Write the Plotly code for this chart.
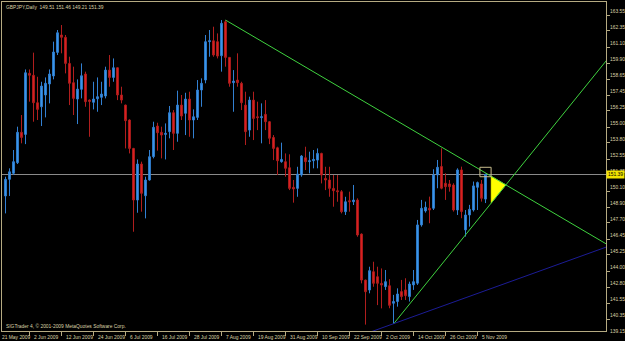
import plotly.graph_objects as go

# ---------------- data ----------------
symbol_title = "GBPJPY,Daily"
copyright_text = "SIGTrader 4, \u00a9 2001-2009 MetaQuotes Software Corp."

date_tick_index = [0, 8, 16, 24, 32, 40, 48, 56, 64, 72, 80, 88, 96, 104, 112, 120]
date_tick_labels = ["21 May 2009", "2 Jun 2009", "12 Jun 2009", "24 Jun 2009", "6 Jul 2009",
                    "16 Jul 2009", "28 Jul 2009", "7 Aug 2009", "19 Aug 2009", "31 Aug 2009",
                    "10 Sep 2009", "22 Sep 2009", "2 Oct 2009", "14 Oct 2009", "26 Oct 2009",
                    "5 Nov 2009"]

price_ticks = [163.55, 162.35, 161.10, 159.90, 158.65, 157.45, 156.25, 155.00, 153.80, 152.55,
               151.35, 150.10, 148.90, 147.70, 146.45, 145.25, 144.00, 142.80, 141.55, 140.35, 139.15]

bar_index = list(range(2, 123))

opens = [149.75, 151.02, 151.48, 152.29, 154.61, 154.45, 159.11, 158.96, 156.87, 156.56,
         157.46, 158.30, 158.91, 160.71, 162.04, 161.86, 159.87, 158.40, 157.15, 157.89,
         159.06, 157.07, 156.90, 157.17, 157.28, 157.38, 159.36, 158.80, 159.54, 157.46,
         156.69, 155.55, 153.38, 149.44, 152.19, 149.77, 150.97, 152.75, 155.09, 154.61,
         154.45, 154.66, 156.11, 154.53, 156.69, 156.06, 157.15, 155.55, 155.75, 157.84,
         158.60, 161.53, 161.60, 161.53, 160.46, 163.05, 160.33, 158.40, 158.60, 158.35,
         156.69, 154.78, 157.07, 155.80, 155.73, 155.98, 155.42, 154.22, 153.43, 152.37,
         152.37, 151.91, 150.41, 150.33, 151.35, 152.67, 152.37, 152.44, 152.49, 153.00,
         151.09, 150.97, 150.33, 150.15, 150.08, 148.55, 149.39, 149.31, 149.44, 146.84,
         143.33, 142.57, 143.97, 143.59, 143.08, 142.83, 142.90, 141.56, 141.69, 142.45,
         142.58, 142.07, 142.96, 143.09, 147.54, 148.61, 148.81, 148.81, 151.36, 152.00,
         150.72, 150.67, 150.59, 148.68, 151.74, 147.16, 148.30, 148.68, 150.41, 150.67,
         149.51]
highs = [151.22, 151.86, 153.26, 155.04, 155.93, 159.41, 159.41, 160.69, 158.85, 158.47,
         158.80, 159.41, 161.53, 162.42, 162.80, 162.04, 160.38, 159.62, 158.65, 159.87,
         159.24, 157.12, 158.47, 158.80, 158.47, 159.62, 160.51, 160.25, 159.56, 158.09,
         156.72, 155.60, 153.42, 152.54, 152.37, 151.22, 153.26, 155.42, 155.34, 155.04,
         155.29, 156.62, 156.31, 157.79, 157.46, 157.63, 157.71, 156.36, 158.60, 158.73,
         162.04, 162.42, 162.67, 162.16, 163.18, 163.18, 160.36, 159.36, 160.64, 158.47,
         157.71, 157.33, 157.71, 156.95, 156.82, 157.07, 155.47, 154.40, 153.51, 153.82,
         153.00, 152.93, 150.97, 151.98, 152.87, 153.51, 153.13, 153.26, 153.38, 153.05,
         151.98, 151.98, 151.35, 151.35, 150.20, 149.69, 150.08, 150.59, 149.57, 146.89,
         143.36, 144.35, 144.73, 144.35, 144.22, 144.10, 143.40, 142.20, 142.70, 143.34,
         143.47, 143.21, 144.10, 147.92, 149.45, 149.32, 149.70, 151.79, 152.50, 153.39,
         151.48, 150.97, 150.72, 151.86, 151.99, 148.68, 149.07, 150.85, 150.85, 150.97,
         151.46]
lows = [148.42, 149.75, 151.35, 152.19, 153.77, 153.71, 156.95, 155.42, 155.55, 155.09,
        155.75, 156.82, 158.65, 160.51, 160.64, 159.11, 156.69, 155.93, 155.24, 157.20,
        156.56, 154.27, 156.36, 156.18, 156.69, 157.20, 158.09, 158.47, 157.07, 156.82,
        153.38, 153.00, 147.02, 148.47, 148.55, 148.04, 150.92, 152.62, 153.21, 152.62,
        152.54, 154.15, 153.26, 153.89, 155.55, 154.40, 154.27, 154.15, 155.55, 156.56,
        158.35, 160.38, 160.38, 160.25, 159.24, 159.62, 158.09, 156.18, 158.09, 156.31,
        153.64, 154.27, 154.02, 154.78, 153.77, 154.78, 153.71, 152.49, 151.35, 152.29,
        151.22, 150.20, 149.24, 149.69, 151.22, 151.73, 151.48, 151.86, 151.86, 150.71,
        150.20, 149.69, 148.93, 149.31, 148.42, 148.30, 148.55, 149.06, 146.64, 143.08,
        139.93, 142.32, 142.82, 141.42, 141.17, 142.58, 141.18, 139.98, 141.30, 141.81,
        141.81, 141.69, 142.58, 142.96, 147.41, 148.48, 147.67, 148.68, 150.34, 150.26,
        149.45, 150.08, 148.56, 148.30, 148.05, 146.65, 147.41, 148.56, 148.68, 149.32,
        149.21]
closes = [151.02, 151.60, 152.37, 154.61, 154.22, 159.16, 158.96, 156.87, 156.36, 158.14,
          158.35, 159.06, 160.74, 162.21, 161.86, 159.87, 158.35, 157.20, 157.91, 158.93,
          156.95, 156.97, 157.15, 157.33, 157.53, 159.36, 158.80, 159.54, 157.46, 157.07,
          155.50, 153.38, 149.44, 152.19, 149.95, 150.97, 152.75, 154.99, 154.58, 154.40,
          154.53, 156.11, 154.53, 156.69, 155.85, 157.15, 155.55, 155.80, 157.84, 158.35,
          161.53, 161.60, 160.51, 160.43, 162.93, 160.33, 158.35, 158.52, 158.40, 156.87,
          154.66, 157.07, 155.67, 155.73, 155.80, 155.42, 154.15, 153.38, 152.44, 152.54,
          151.86, 150.33, 150.28, 151.42, 152.80, 152.37, 152.44, 152.54, 153.00, 151.35,
          150.97, 150.33, 150.15, 150.08, 148.55, 149.31, 149.31, 149.44, 146.77, 143.33,
          142.44, 144.05, 143.08, 143.08, 142.95, 143.21, 141.40, 141.69, 142.27, 142.07,
          142.14, 143.03, 143.21, 147.54, 148.81, 148.89, 148.68, 151.36, 151.94, 150.34,
          150.46, 150.46, 148.68, 151.74, 148.56, 148.30, 148.73, 150.52, 150.77, 149.57,
          151.39]

# drawn objects: anchor points (bar index, price)
upper_trend = {"x": [57, 122], "y": [163.18, 151.51]}
lower_trend = {"x": [99, 122], "y": [139.98, 148.67]}
navy_trend = {"x": [99, 122], "y": [140.00, 142.53]}
triangle = {"x": [123.4, 123.4, 127.1], "y": [151.26, 149.20, 150.60]}
rect_box = {"x": [120.6, 123.4], "y": [151.22, 151.94]}

# ---------------- styling ----------------
X_RANGE = [1.125, 152.125]
Y_RANGE = [139.443, 164.558]
FG = "#ddd3a8"
FRAME = "#b5aa82"
FONT = "Liberation Sans, Arial, sans-serif"
FS = 4.9


def ray(anchor, x_end):
    x0, x1 = anchor["x"]
    y0, y1 = anchor["y"]
    slope = (y1 - y0) / (x1 - x0)
    return [x0, x_end], [y0, y0 + slope * (x_end - x0)]


def ray_both(anchor, x_start, x_end):
    x0, x1 = anchor["x"]
    y0, y1 = anchor["y"]
    slope = (y1 - y0) / (x1 - x0)
    return [x_start, x_end], [y0 + slope * (x_start - x0), y0 + slope * (x_end - x0)]


fig = go.Figure()

fig.add_trace(go.Candlestick(
    x=bar_index, open=opens, high=highs, low=lows, close=closes,
    increasing=dict(line=dict(color="#3280d2", width=1), fillcolor="#3d9cf2"),
    decreasing=dict(line=dict(color="#b01e1e", width=1), fillcolor="#e82222"),
    whiskerwidth=0, showlegend=False, hoverinfo="skip",
))

# yellow triangle
fig.add_trace(go.Scatter(
    x=triangle["x"] + [triangle["x"][0]], y=triangle["y"] + [triangle["y"][0]],
    mode="lines", fill="toself", fillcolor="#ffff00",
    line=dict(color="#ffff00", width=0.5), showlegend=False, hoverinfo="skip"))

xe = X_RANGE[1] + 1
for anc, col, both in [(upper_trend, "#3fd23f", False), (lower_trend, "#3fd23f", False),
                       (navy_trend, "#1c1c96", True)]:
    if both:
        xs, ys = ray_both(anc, 85, xe)
    else:
        xs, ys = ray(anc, xe)
    fig.add_trace(go.Scatter(x=xs, y=ys, mode="lines", line=dict(color=col, width=1),
                             showlegend=False, hoverinfo="skip"))

shapes = [
    dict(type="line", xref="paper", yref="y", x0=0, x1=1, y0=closes[-1], y1=closes[-1],
         line=dict(color="#8a8a8a", width=1), layer="below"),
    dict(type="rect", xref="x", yref="y", x0=rect_box["x"][0], x1=rect_box["x"][1],
         y0=rect_box["y"][0], y1=rect_box["y"][1], line=dict(color="#c9bd8e", width=1),
         fillcolor="rgba(0,0,0,0)"),
]

annotations = []
# price labels (MT4 draws the text just above its tick)
for v in price_ticks:
    frac = (v - Y_RANGE[0]) / (Y_RANGE[1] - Y_RANGE[0])
    annotations.append(dict(text=f"{v:.2f}", xref="paper", yref="paper", x=1, y=frac,
                            xanchor="left", yanchor="middle", xshift=1.5, yshift=3.5,
                            showarrow=False, font=dict(size=FS, color=FG, family=FONT)))
# current price label
cfrac = (closes[-1] - Y_RANGE[0]) / (Y_RANGE[1] - Y_RANGE[0])
annotations.append(dict(text=f"{closes[-1]:.2f}", xref="paper", yref="paper", x=1, y=cfrac,
                        xanchor="left", yanchor="middle", xshift=0, showarrow=False,
                        bgcolor="#f2e300", borderpad=1,
                        font=dict(size=FS, color="#000000", family=FONT)))
# date labels (first one is pinned to the left edge, as MT4 does)
for t, lab in zip(date_tick_index, date_tick_labels):
    clamped = t < X_RANGE[0]
    xv = X_RANGE[0] if clamped else t
    annotations.append(dict(text=lab, xref="x", yref="paper", x=xv, y=0,
                            xanchor="left", yanchor="top", xshift=-2 if clamped else 2.5,
                            yshift=-2, showarrow=False,
                            font=dict(size=FS, color=FG, family=FONT)))
# title and copyright
annotations.append(dict(
    text=f"{symbol_title}  {opens[-1]:.2f} {highs[-1]:.2f} {lows[-1]:.2f} {closes[-1]:.2f}",
    xref="paper", yref="paper", x=0, y=1, xanchor="left", yanchor="top", xshift=2, yshift=-1,
    showarrow=False, font=dict(size=FS, color=FG, family=FONT)))
annotations.append(dict(
    text=copyright_text, xref="paper", yref="paper", x=0, y=0, xanchor="left",
    yanchor="bottom", xshift=2, yshift=0, showarrow=False,
    font=dict(size=FS, color=FG, family=FONT)))

fig.update_layout(
    width=625, height=341,
    margin=dict(l=2, r=19, t=2, b=10, pad=0),
    paper_bgcolor="#000000", plot_bgcolor="#000000",
    boxgap=0.38,
    showlegend=False,
    shapes=shapes,
    annotations=annotations,
    xaxis=dict(range=X_RANGE, tickvals=date_tick_index, ticks="outside", ticklen=4,
               tickcolor=FRAME, showticklabels=False, showgrid=False, zeroline=False,
               showline=True, linecolor=FRAME, linewidth=1, mirror=True,
               rangeslider=dict(visible=False), fixedrange=True),
    yaxis=dict(range=Y_RANGE, side="right", tickvals=price_ticks, ticks="outside", ticklen=3,
               tickcolor=FRAME, showticklabels=False, showgrid=False, zeroline=False,
               showline=True, linecolor=FRAME, linewidth=1, mirror=True, fixedrange=True),
)

fig.write_html("out.html")
